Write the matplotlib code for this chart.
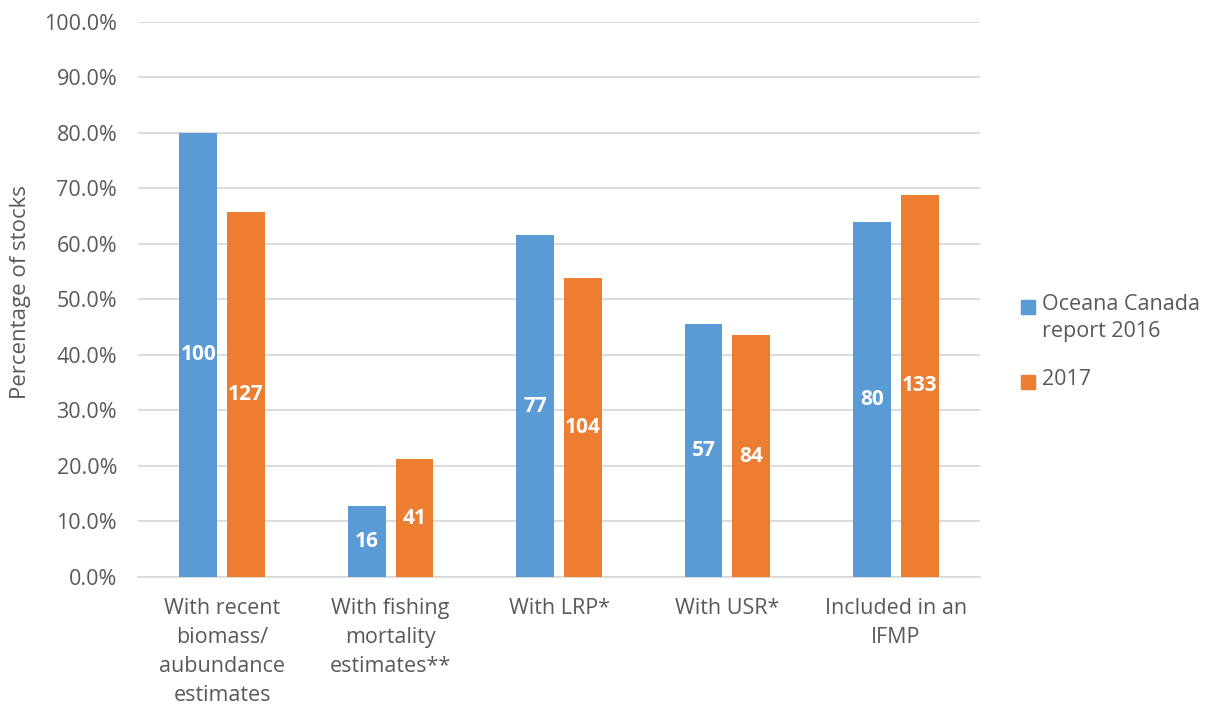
import numpy as np
from matplotlib import pyplot as plt
from matplotlib.patches import Rectangle
from matplotlib.ticker import PercentFormatter

# Stock assessment coverage, counts of stocks per category
categories = ["With recent\nbiomass/\naubundance\nestimates",
              "With fishing\nmortality\nestimates**",
              "With LRP*",
              "With USR*",
              "Included in an\nIFMP"]
series_names = ["Oceana Canada\nreport 2016", "2017"]
counts_2016 = [100, 16, 77, 57, 80]
counts_2017 = [127, 41, 104, 84, 133]
total_2016 = 125
total_2017 = 193

colors = ["#5B9BD5", "#ED7D31"]
text_color = "#595959"
plt.rcParams['font.family'] = ['Open Sans', 'DejaVu Sans']

pct_2016 = np.array(counts_2016) / total_2016 * 100
pct_2017 = np.array(counts_2017) / total_2017 * 100

W, H = 1207, 704
fig = plt.figure(figsize=(W / 100, H / 100), dpi=100)
ax = fig.add_axes([0.1143, 0.1804, 0.6977, 0.7884])

x = np.arange(len(categories))
width = 0.225
offset = 0.142
for pcts, counts, dx, c, name in [(pct_2016, counts_2016, -offset, colors[0], series_names[0]),
                                  (pct_2017, counts_2017, offset, colors[1], series_names[1])]:
    ax.bar(x + dx, pcts, width, color=c, label=name, zorder=3)
    for xi, p, n in zip(x + dx, pcts, counts):
        ax.text(xi, p / 2, str(n), ha='center', va='center', color='white',
                fontsize=15, fontweight='bold', zorder=4)

ax.set_xlim(-0.5, len(categories) - 0.5)
ax.set_ylim(0, 100)
ax.set_yticks(np.arange(0, 101, 10))
ax.yaxis.set_major_formatter(PercentFormatter(decimals=1))
ax.set_xticks(x)
ax.set_xticklabels(categories, linespacing=1.5, va='top')
ax.tick_params(axis='both', length=0, labelsize=15.5, colors=text_color)
ax.tick_params(axis='x', pad=15)
ax.tick_params(axis='y', pad=15)
ax.grid(axis='y', color='#D9D9D9', linewidth=1.3, zorder=0)
for s in ['top', 'right', 'left']:
    ax.spines[s].set_visible(False)
ax.spines['bottom'].set_color('#D9D9D9')
ax.spines['bottom'].set_linewidth(1.3)

ax.set_ylabel("Percentage of stocks", fontsize=16, color=text_color)
ax.yaxis.set_label_coords(31 / W, 1 - 292 / H, transform=fig.transFigure)

# legend: square aligned with the first line of each entry
legend_rows = [(series_names[0], colors[0], 307), (series_names[1], colors[1], 382)]
for name, c, ypx in legend_rows:
    fig.patches.append(Rectangle((1021 / W, 1 - (ypx + 7) / H), 14 / W, 14 / H,
                                 transform=fig.transFigure, color=c))
    fig.text(1042 / W, 1 - (ypx - 13) / H, name, fontsize=15.5, color=text_color,
             va='top', ha='left', linespacing=1.4)

fig.savefig("out.png", dpi=100)
